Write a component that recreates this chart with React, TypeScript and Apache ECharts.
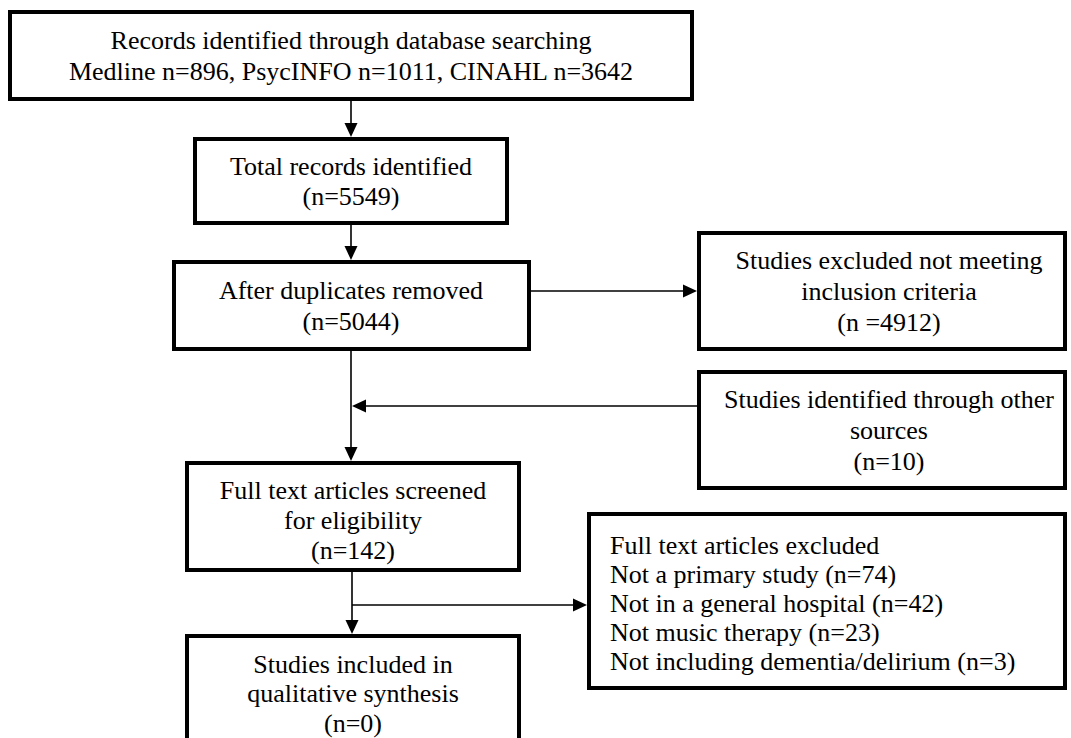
import React, { useEffect, useRef } from "react";
import * as echarts from "echarts";

// ---- Data (texts of the flow diagram) ----
const identifiedLines = [
  "Records identified through database searching",
  "Medline n=896, PsycINFO n=1011, CINAHL n=3642",
];
const totalLines = ["Total records identified", "(n=5549)"];
const dedupLines = ["After duplicates removed", "(n=5044)"];
const excludedLines = ["Studies excluded not meeting", "inclusion criteria", "(n =4912)"];
const otherLines = ["Studies identified through other", "sources", "(n=10)"];
const screenedLines = ["Full text articles screened", "for eligibility", "(n=142)"];
const fullExcludedLines = [
  "Full text articles excluded",
  "Not a primary study (n=74)",
  "Not in a general hospital (n=42)",
  "Not music therapy (n=23)",
  "Not including dementia/delirium (n=3)",
];
const includedLines = ["Studies included in", "qualitative synthesis", "(n=0)"];

const FONT = '26px "Liberation Serif", "Times New Roman", serif';
const BORDER = 4;

type Box = { x0: number; x1: number; y0: number; y1: number };

function rectEl(b: Box) {
  const h = BORDER / 2;
  return {
    type: "rect",
    shape: { x: b.x0 + h, y: b.y0 + h, width: b.x1 - b.x0 - BORDER, height: b.y1 - b.y0 - BORDER },
    style: { fill: "#fff", stroke: "#000", lineWidth: BORDER },
    z: 1,
  };
}

function textEls(lines: string[], x: number, yFirst: number, step: number, align: string) {
  return lines.map((t, i) => ({
    type: "text",
    z: 5,
    style: {
      text: t,
      x,
      y: yFirst + i * step,
      fill: "#000",
      font: FONT,
      align,
      textAlign: align,
      verticalAlign: "middle",
      textVerticalAlign: "middle",
    },
  }));
}

function lineEl(x1: number, y1: number, x2: number, y2: number) {
  return {
    type: "line",
    z: 2,
    shape: { x1, y1, x2, y2 },
    style: { stroke: "#000", lineWidth: 1.6 },
  };
}

function arrowHead(x: number, y: number, dir: "down" | "right" | "left") {
  const L = 14;
  const W = 6.5;
  let pts: number[][];
  if (dir === "down") pts = [[x - W, y - L], [x + W, y - L], [x, y]];
  else if (dir === "right") pts = [[x - L, y - W], [x - L, y + W], [x, y]];
  else pts = [[x + L, y - W], [x + L, y + W], [x, y]];
  return { type: "polygon", z: 3, shape: { points: pts }, style: { fill: "#000" } };
}

export default function App() {
  const ref = useRef<HTMLDivElement>(null);

  useEffect(() => {
    if (!ref.current) return;
    const chart = echarts.init(ref.current, undefined, { renderer: "svg" });

    const b1: Box = { x0: 8, x1: 694, y0: 10, y1: 101 };
    const b2: Box = { x0: 193, x1: 509, y0: 137, y1: 225 };
    const b3: Box = { x0: 172, x1: 531, y0: 260, y1: 351 };
    const b4: Box = { x0: 697, x1: 1067, y0: 231, y1: 351 };
    const b5: Box = { x0: 697, x1: 1067, y0: 370, y1: 490 };
    const b6: Box = { x0: 587, x1: 1067, y0: 512, y1: 690 };
    const b7: Box = { x0: 185, x1: 521, y0: 461, y1: 572 };
    const b8: Box = { x0: 185, x1: 521, y0: 634, y1: 780 };

    const cx = 351;

    const elements: any[] = [
      rectEl(b1), rectEl(b2), rectEl(b3), rectEl(b4),
      rectEl(b5), rectEl(b6), rectEl(b7), rectEl(b8),
      ...textEls(identifiedLines, cx, 40.5, 30.5, "center"),
      ...textEls(totalLines, cx, 166, 30, "center"),
      ...textEls(dedupLines, cx, 290, 31, "center"),
      ...textEls(excludedLines, 889, 260, 31, "center"),
      ...textEls(otherLines, 889, 399, 31, "center"),
      ...textEls(screenedLines, 353, 490, 30, "center"),
      ...textEls(fullExcludedLines, 610, 545, 29, "left"),
      ...textEls(includedLines, 353, 664, 29.5, "center"),
      // connectors
      lineEl(cx, b1.y1, cx, b2.y0 - 10),
      arrowHead(cx, b2.y0, "down"),
      lineEl(cx, b2.y1, cx, b3.y0 - 10),
      arrowHead(cx, b3.y0, "down"),
      lineEl(b3.x1, 291, b4.x0 - 10, 291),
      arrowHead(b4.x0, 291, "right"),
      lineEl(cx, b3.y1, cx, b7.y0 - 10),
      arrowHead(cx, b7.y0, "down"),
      lineEl(b5.x0, 406, cx + 10, 406),
      arrowHead(cx + 1, 406, "left"),
      lineEl(cx + 1, b7.y1, cx + 1, b8.y0 - 10),
      arrowHead(cx + 1, b8.y0, "down"),
      lineEl(cx + 1, 605, b6.x0 - 10, 605),
      arrowHead(b6.x0, 605, "right"),
    ];

    chart.setOption({
      animation: false,
      backgroundColor: "#fff",
      graphic: { elements },
    });

    return () => chart.dispose();
  }, []);

  return (
    <div
      ref={ref}
      style={{ position: "absolute", left: 0, top: 0, width: 1071, height: 738 }}
    />
  );
}
